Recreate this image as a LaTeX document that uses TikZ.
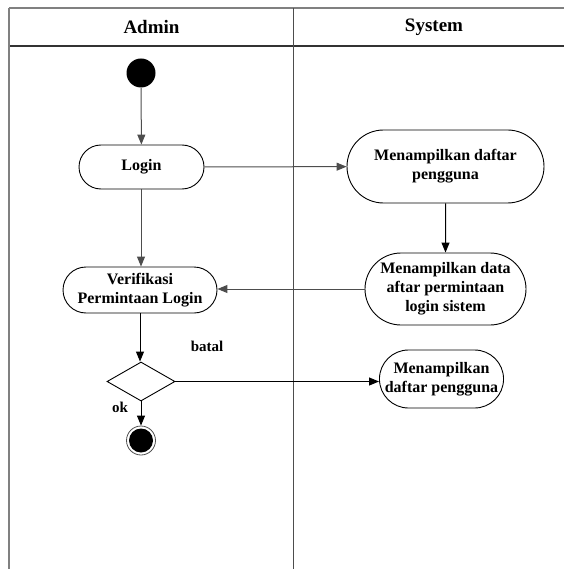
\documentclass[tikz,border=0pt]{standalone}
\usepackage{fontspec}
\setmainfont{Liberation Serif}
\usetikzlibrary{shapes.geometric,shapes.misc,arrows.meta}
\definecolor{lanegray}{HTML}{808080}
\definecolor{flowgray}{HTML}{4D4D4D}
\tikzset{
  every node/.style={font=\bfseries\fontsize{16}{19}\selectfont, align=center},
  lanetitle/.style={font=\bfseries\fontsize{19}{22}\selectfont},
  activity/.style={rounded rectangle, draw=black, line width=0.9pt, inner sep=0pt, fill=white},
  choice/.style={diamond, draw=black, line width=0.9pt, inner sep=0pt, fill=white,
    minimum width=68pt, minimum height=39pt},
  flow/.style={-{Triangle[length=10pt,width=8pt]}, line width=1pt},
  startdot/.style={circle, fill=black, inner sep=0pt, minimum size=29pt},
  guard/.style={font=\bfseries\fontsize{15}{18}\selectfont}
}
\begin{document}
\begin{tikzpicture}[x=1pt,y=-1pt]
\useasboundingbox (0,0) rectangle (564,569);

% swimlane frame
\draw[lanegray, line width=1.2pt] (9,8) -- (564,8);
\draw[black!80, line width=1.2pt] (9,46) -- (564,46);
\draw[lanegray, line width=1.4pt] (9,8) -- (9,569);
\draw[flowgray, line width=1pt] (293,8) -- (293,569);
\node[lanetitle] (admin) at (151.5,27) {Admin};
\node[lanetitle] (system) at (434,27) {System};

% admin lane
\node[startdot] (start) at (141,73) {};
\node[activity, minimum width=125pt, minimum height=44pt] (login) at (141.5,167) {Login};
\node[activity, minimum width=154pt, minimum height=46pt] (verif) at (140,290) {Verifikasi\\Permintaan Login};
\node[choice] (dec) at (141,381.5) {};
\node[circle, draw=flowgray, line width=0.8pt, fill=white, inner sep=0pt, minimum size=29pt] (stop) at (141,440.5) {};
\node[circle, fill=black, inner sep=0pt, minimum size=24pt] (stopdot) at (stop) {};

% system lane
\node[activity, minimum width=197pt, minimum height=73pt] (list) at (445.5,166.5) {Menampilkan daftar\\pengguna};
\node[activity, minimum width=161pt, minimum height=72pt] (req) at (445.5,289) {Menampilkan data\\aftar permintaan\\login sistem};
\node[activity, minimum width=123pt, minimum height=58pt] (list2) at (441.5,379) {Menampilkan\\daftar pengguna};

% flows
\draw[flow, flowgray] (start) -- (login);
\draw[flow, flowgray] (login) -- (list);
\draw[flow, flowgray] (login.south -| 141,0) -- (verif.north -| 141,0);
\draw[flow, black] (list) -- (req);
\draw[flow, flowgray] (req.west) -- (verif.east |- req.west);
\draw[flow, black] (verif.south -| 140,0) -- (dec.north -| 140,0);
\draw[flow, black] (dec.east) -- (list2.west |- dec.east);
\draw[flow, black] (dec) -- (stop);

% guard labels
\node[guard] (batal) at (207,346) {batal};
\node[guard] (ok) at (120,407) {ok};
\end{tikzpicture}
\end{document}
